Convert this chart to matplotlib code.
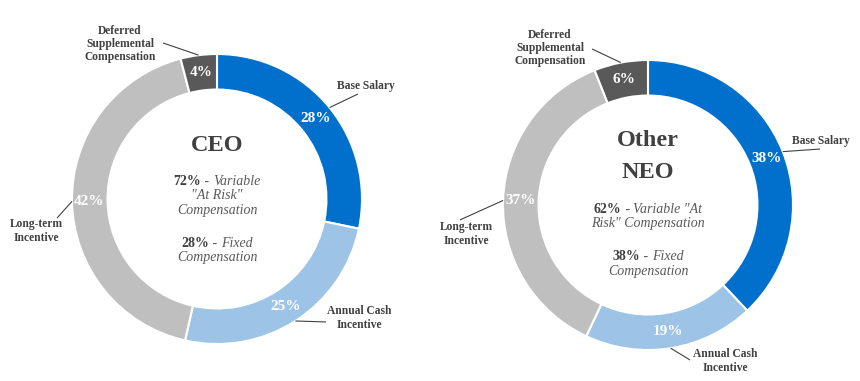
import matplotlib
matplotlib.use("Agg")
import matplotlib.pyplot as plt
import numpy as np

plt.rcParams['font.family'] = ['Liberation Serif', 'DejaVu Serif']

categories = ["Base Salary", "Annual Cash\nIncentive", "Long-term\nIncentive",
              "Deferred\nSupplemental\nCompensation"]
ceo_values = [28, 25, 42, 4]
neo_values = [38, 19, 37, 6]
colors = ["#0070CC", "#9DC3E6", "#BFBFBF", "#595959"]

ceo_title = ["CEO"]
neo_title = ["Other", "NEO"]
ceo_center = [[("72%", "bold"), (" - ", "normal"), ("Variable", "italic")],
              [("\"At Risk\"", "italic")],
              [("Compensation", "italic")],
              None,
              [("28%", "bold"), (" - ", "normal"), ("Fixed", "italic")],
              [("Compensation", "italic")]]
neo_center = [[("62%", "bold"), (" - ", "normal"), ("Variable \"At", "italic")],
              [("Risk\" Compensation", "italic")],
              None,
              [("38%", "bold"), (" - ", "normal"), ("Fixed", "italic")],
              [("Compensation", "italic")]]

W, H = 860, 381
fig = plt.figure(figsize=(W / 100, H / 100), dpi=100)
R = 145.0  # pixels per radius


def make_ax(x0, w, cx, cy_top):
    ax = fig.add_axes([x0 / W, 0, w / W, 1])
    cy = H - cy_top
    ax.set_xlim((x0 - cx) / R, (x0 + w - cx) / R)
    ax.set_ylim(-cy / R, (H - cy) / R)
    ax.set_aspect('auto')
    ax.axis('off')
    return ax


def draw_lines(ax, y_start, lines, step, size):
    fig.canvas.draw()
    renderer = fig.canvas.get_renderer()
    y = y_start
    for line in lines:
        if line is None:
            y -= step * 1.15
            continue
        texts = []
        for s, st in line:
            kw = dict(fontsize=size, ha='left', va='center')
            if st == "bold":
                kw.update(fontweight='bold', color='#404040')
            elif st == "italic":
                kw.update(fontstyle='italic', color='#595959')
            else:
                kw.update(color='#595959')
            texts.append(ax.text(0, y, s, **kw))
        widths = [t.get_window_extent(renderer).width / R for t in texts]
        total = sum(widths)
        x = -total / 2
        for t, wd in zip(texts, widths):
            t.set_x(x)
            x += wd
        y -= step


def donut(ax, values, title_lines, title_ys, center_lines, center_y0,
          label_text_pos, label_line_end):
    wedges, _ = ax.pie(values, colors=colors, startangle=90, counterclock=False,
                       radius=1.0, wedgeprops=dict(width=0.245, edgecolor='white',
                                                   linewidth=1.5))
    ax.set_xlim(ax.get_xlim())
    total = sum(values)
    for i, w in enumerate(wedges):
        mid = np.deg2rad((w.theta1 + w.theta2) / 2)
        pr = 0.88
        ax.text(pr * np.cos(mid), pr * np.sin(mid), f"{values[i]}%",
                ha='center', va='center', color='white', fontsize=11,
                fontweight='bold')
        sx, sy = np.cos(mid) * 1.0, np.sin(mid) * 1.0
        ex, ey = label_line_end[i]
        ax.plot([sx, ex], [sy, ey], color='#404040', lw=0.8, solid_capstyle='butt')
        tx, ty = label_text_pos[i]
        ax.text(tx, ty, categories[i], ha='center', va='center', fontsize=8.3,
                fontweight='bold', color='#404040', linespacing=1.15)
    for t, y in zip(title_lines, title_ys):
        ax.text(0, y, t, ha='center', va='center', fontsize=17.5,
                fontweight='bold', color='#404040')
    draw_lines(ax, center_y0, center_lines, 0.103, 10)


ax1 = make_ax(0, 430, 217, 199)
ax2 = make_ax(430, 430, 648, 205)

donut(ax1, ceo_values, ceo_title, [0.372], ceo_center, 0.124,
      [(1.028, 0.779), (0.979, -0.821), (-1.248, -0.221), (-0.669, 1.069)],
      [(0.972, 0.724), (0.752, -0.848), (-1.103, -0.131), (-0.372, 1.076)])
ax1.set_xlim(-217 / R, (430 - 217) / R)
ax1.set_ylim(-(H - 199) / R, 199 / R)

donut(ax2, neo_values, neo_title, [0.448, 0.221], neo_center, -0.028,
      [(1.193, 0.441), (0.531, -1.076), (-1.255, -0.200), (-0.676, 1.083)],
      [(1.186, 0.386), (0.290, -1.069), (-1.297, -0.103), (-0.386, 1.076)])
ax2.set_xlim((430 - 648) / R, (860 - 648) / R)
ax2.set_ylim(-(H - 205) / R, 205 / R)

fig.savefig("out.png", dpi=100, facecolor='white')
